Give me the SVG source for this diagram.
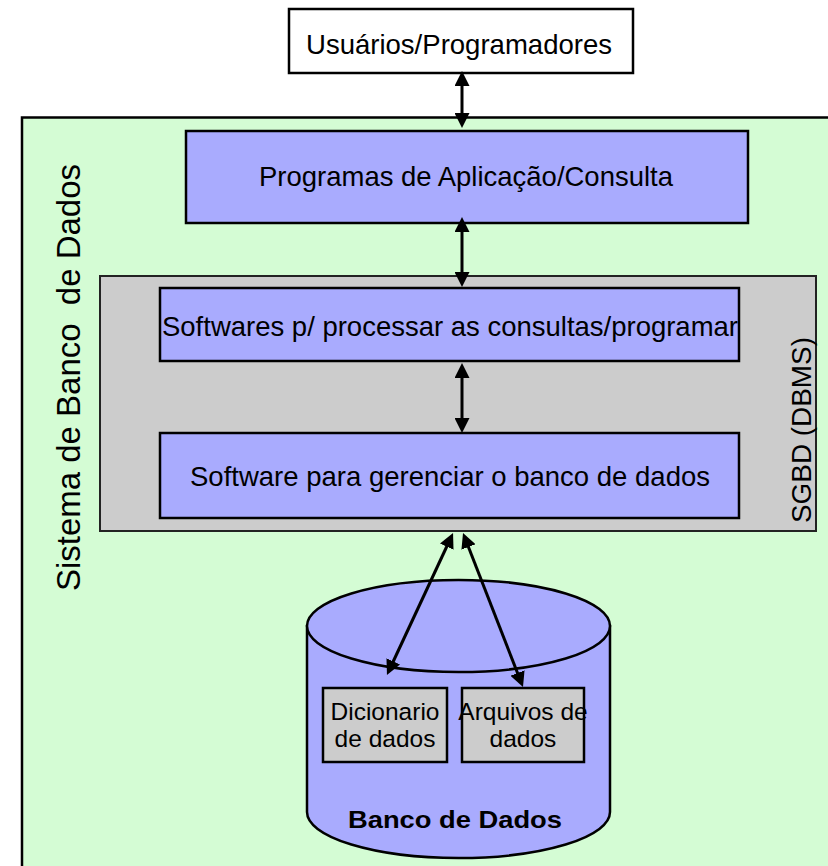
<svg xmlns="http://www.w3.org/2000/svg" width="828" height="866" viewBox="0 0 828 866">
  <style>
    text { font-family: "Liberation Sans", Arial, sans-serif; fill: #000; }
    .box { stroke: #000; stroke-width: 2.5; }
    .blue { fill: #A9ABFE; }
    .gray { fill: #CCCCCC; }
    .green { fill: #D4FCD4; }
    .lbl { font-size: 28.5px; text-anchor: middle; }
    .small { font-size: 24.5px; text-anchor: middle; }
    .conn { stroke: #000; stroke-width: 3; fill: none; marker-start: url(#ah); marker-end: url(#ah); }
  </style>
  <defs>
    <marker id="ah" markerUnits="userSpaceOnUse" markerWidth="15" markerHeight="15" viewBox="0 0 15 15" refX="4" refY="7.5" orient="auto-start-reverse">
      <path d="M0,0 L15,7.5 L0,15 z" fill="#000"/>
    </marker>
  </defs>
  <rect width="828" height="866" fill="#fff"/>

  <g id="sistema">
    <rect class="green" x="22" y="117.5" width="820" height="760" stroke="#000" stroke-width="2.5"/>
    <text transform="translate(80,377.5) rotate(-90)" font-size="32.5" text-anchor="middle" textLength="427" lengthAdjust="spacingAndGlyphs" style="white-space:pre" xml:space="preserve">Sistema de Banco  de Dados</text>
  </g>

  <g id="usuarios">
    <rect class="box" x="289" y="9" width="344" height="64" fill="#fff"/>
    <text class="lbl" x="459" y="54" textLength="306" lengthAdjust="spacingAndGlyphs">Usuários/Programadores</text>
  </g>

  <g id="programas">
    <rect class="box blue" x="186" y="131" width="562" height="92"/>
    <text class="lbl" x="466" y="186" textLength="414" lengthAdjust="spacingAndGlyphs">Programas de Aplicação/Consulta</text>
  </g>

  <g id="sgbd">
    <rect class="gray" x="100" y="276" width="716" height="255" stroke="#222" stroke-width="2"/>
    <text transform="translate(811,430) rotate(-90)" font-size="28" text-anchor="middle" textLength="186" lengthAdjust="spacingAndGlyphs">SGBD (DBMS)</text>
  </g>

  <g id="processar">
    <rect class="box blue" x="160" y="288" width="579" height="73"/>
    <text class="lbl" x="450" y="336" textLength="576" lengthAdjust="spacingAndGlyphs">Softwares p/ processar as consultas/programar</text>
  </g>

  <g id="gerenciar">
    <rect class="box blue" x="160" y="433" width="579" height="85"/>
    <text class="lbl" x="450" y="486" textLength="520" lengthAdjust="spacingAndGlyphs">Software para gerenciar o banco de dados</text>
  </g>

  <g id="banco">
    <path class="blue" d="M307,626 L307,812 A151.5,46 0 0 0 610,812 L610,626 Z" stroke="#000" stroke-width="2.5"/>
    <ellipse class="blue" cx="458.5" cy="626" rx="151.5" ry="46" stroke="#000" stroke-width="2.5"/>
    <text x="455" y="828" font-size="24.5" font-weight="bold" text-anchor="middle" textLength="214" lengthAdjust="spacingAndGlyphs">Banco de Dados</text>
  </g>

  <g id="dicionario">
    <rect class="box gray" x="323" y="688" width="124" height="74"/>
    <text class="small" x="385" y="720">Dicionario</text>
    <text class="small" x="385" y="747">de dados</text>
  </g>

  <g id="arquivos">
    <rect class="box gray" x="462" y="688" width="122" height="74"/>
    <text class="small" x="523" y="720">Arquivos de</text>
    <text class="small" x="523" y="747">dados</text>
  </g>

  <g id="connectors">
    <line class="conn" x1="462" y1="82" x2="462" y2="117"/>
    <line class="conn" x1="462" y1="228" x2="462" y2="276"/>
    <line class="conn" x1="462" y1="374" x2="462" y2="422"/>
    <line class="conn" x1="448.4" y1="543" x2="391.6" y2="665"/>
    <line class="conn" x1="467" y1="543.2" x2="519" y2="676.8"/>
  </g>
</svg>
